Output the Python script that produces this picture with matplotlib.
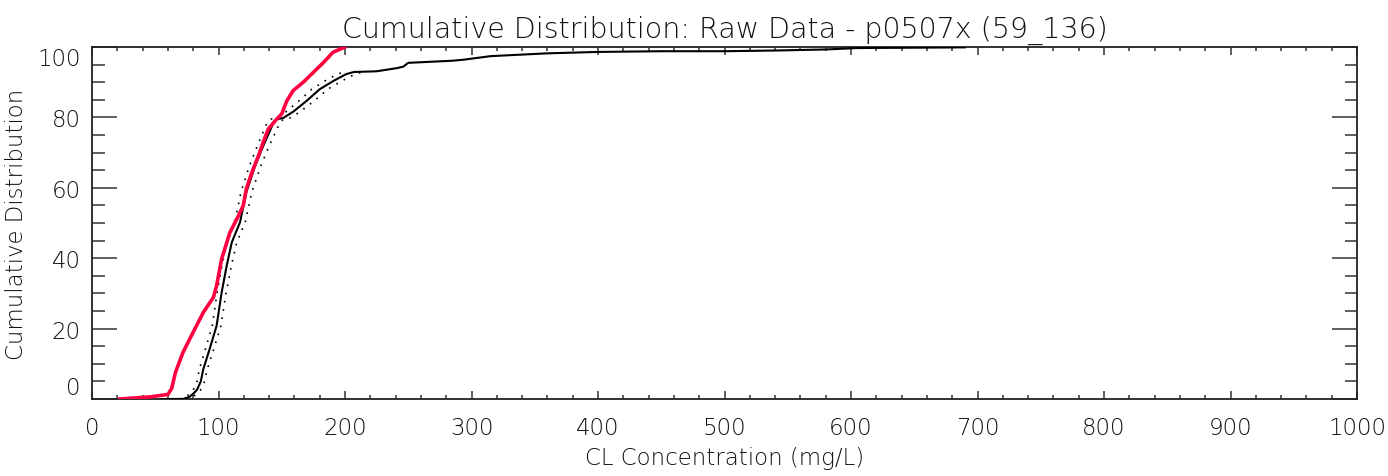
import numpy as np
import matplotlib
matplotlib.use("Agg")
from matplotlib import pyplot as plt
from matplotlib import font_manager

# black curve: raw data cdf (CL in mg/L, cumulative %)
raw_x = [55, 72, 77, 80, 83, 86, 88, 93, 98.5, 102.5, 106.5, 110.5, 117, 122, 129, 135.5,
         143, 146, 151, 159, 170, 180, 191, 201, 207, 225, 241, 246, 250, 285, 294, 315,
         360, 400, 450, 500, 540, 580, 605, 690]
raw_y = [0, 0, 0.6, 1.5, 2.6, 5, 8.5, 14.2, 20.8, 30.3, 37.9, 44.5, 50.2, 58.7, 66.3, 72,
         78.1, 79.5, 79.8, 81.6, 84.8, 88, 90.4, 92.3, 92.9, 93.1, 94.0, 94.4, 95.5, 96.1, 96.4, 97.4,
         98.2, 98.6, 98.8, 98.8, 99.0, 99.3, 99.7, 99.9]

# dotted bounds around the raw curve
band_y = [0, 0.6, 1.5, 2.6, 5, 8.5, 14.2, 20.8, 30.3, 37.9, 44.5, 50.2, 58.7, 66.3, 72,
          78.1, 79.5, 79.8, 81.6, 84.8, 88, 90.4, 92.3, 92.9]
band_lo = [69.5, 74.3, 77.2, 80.1, 83, 84.9, 89.7, 95.1, 98.9, 102.8, 106.6, 112.9, 117.7, 124.5, 130.8,
           138, 140.9, 145.7, 153.4, 164, 173.7, 184.3, 194, 199.8]
band_hi = [74.5, 79.7, 82.8, 85.9, 89, 91.1, 96.3, 101.9, 106.1, 110.2, 114.4, 121.1, 126.3, 133.5, 140.2,
           148, 151.1, 156.3, 164.6, 176, 186.3, 197.7, 208, 214.2]

# red curve
red_x = [22, 46, 60, 63, 66, 72, 80, 88, 96, 98.5, 102.5, 109, 115.7, 119.6, 122, 126, 131.5,
         135.4, 139.4, 144.7, 150, 154, 159, 167, 175, 183, 190.5, 200]
red_y = [0, 0.6, 1.3, 3, 7.6, 13.3, 19, 24.6, 28.9, 32.2, 39.8, 47.3, 52, 55, 59.7, 64, 69,
         73, 76.7, 79, 81, 84.7, 87.6, 90, 92.8, 95.6, 98.5, 100]

x_ticks = [0, 100, 200, 300, 400, 500, 600, 700, 800, 900, 1000]
y_ticks = [0, 20, 40, 60, 80, 100]

# thin font to look like the IDL vector font
wt = 'normal'
for f in font_manager.fontManager.ttflist:
    if f.name == 'DejaVu Sans' and f.weight in (200, 'extra-light', 'light'):
        wt = 'light'
        break
plt.rcParams['font.family'] = ['DejaVu Sans']
plt.rcParams['font.weight'] = wt
plt.rcParams['axes.titleweight'] = wt
plt.rcParams['axes.labelweight'] = wt

fig = plt.figure(figsize=(13.88, 4.77), dpi=100)
ax = fig.add_axes([92/1388, 1-400/477, (1357-92)/1388, (400-48)/477])

ax.plot(raw_x, raw_y, color='black', lw=1.5, zorder=3)
ax.plot(band_lo, band_y, color='black', lw=1.2, ls=(0, (1, 4)), zorder=2)
ax.plot(band_hi, band_y, color='black', lw=1.2, ls=(0, (1, 4)), zorder=2)
ax.plot(red_x, red_y, color='#ff0040', lw=2.6, zorder=4)

ax.set_xlim(0, 1000)
ax.set_ylim(0, 100)
ax.set_xticks(x_ticks)
ax.set_yticks(y_ticks)
ax.set_xticks(np.arange(0, 1001, 20), minor=True)
ax.set_yticks(np.arange(0, 101, 5), minor=True)
ax.tick_params(axis='both', which='both', direction='in', top=True, right=True,
               color='#333333', labelsize=16.5, labelcolor='#111111')
ax.tick_params(axis='x', which='major', length=5.5, width=1.1, pad=12)
ax.tick_params(axis='x', which='minor', length=3, width=1.1)
ax.tick_params(axis='y', which='major', length=18, width=1.1, pad=8)
ax.tick_params(axis='y', which='minor', length=9, width=1.1)
for s in ax.spines.values():
    s.set_linewidth(1.3)
    s.set_color('#222222')

ylabels = ax.get_yticklabels()
ylabels[0].set_va('bottom')
ylabels[-1].set_va('top')

ax.set_xlabel("CL Concentration (mg/L)", fontsize=16.5, labelpad=5, color='#111111')
ax.set_ylabel("Cumulative Distribution", fontsize=16.5, labelpad=7, color='#111111')
ax.set_title("Cumulative Distribution: Raw Data - p0507x (59_136)", fontsize=20.5, pad=7,
             color='#111111')

fig.savefig("out.png", dpi=100)
